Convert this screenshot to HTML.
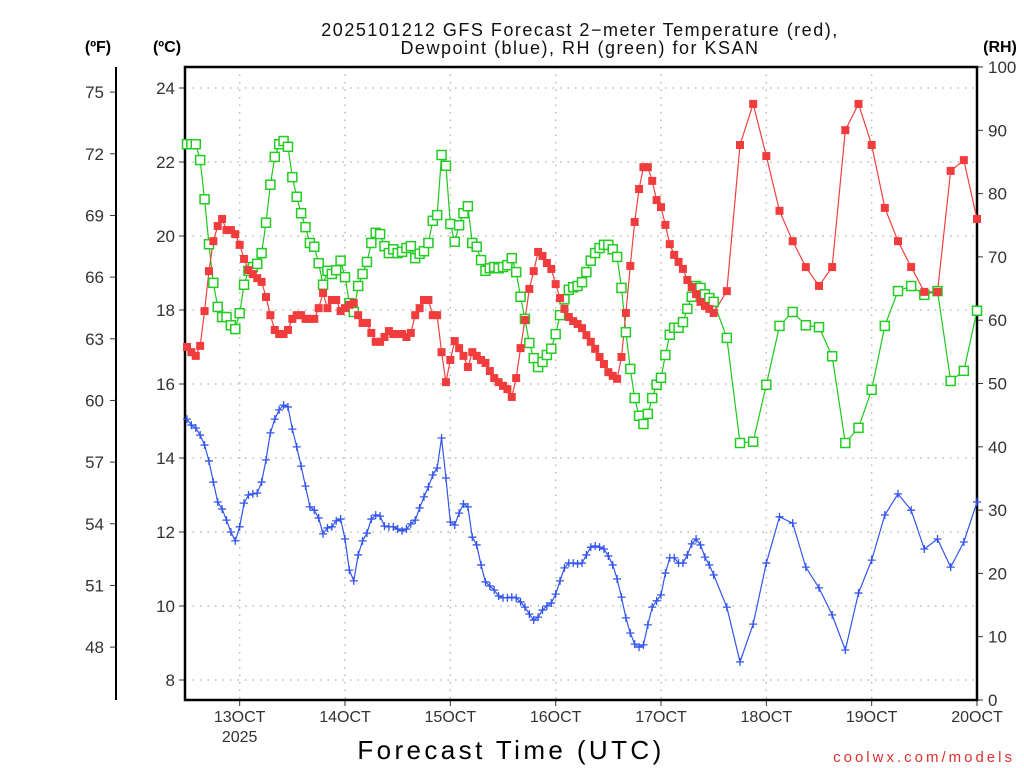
<!DOCTYPE html>
<html><head><meta charset="utf-8"><style>
html,body{margin:0;padding:0;background:#fff;width:1024px;height:768px;overflow:hidden}
svg{display:block;font-family:"Liberation Sans",sans-serif}
</style></head><body>
<svg id="chart" width="1024" height="768" viewBox="0 0 1024 768" xmlns="http://www.w3.org/2000/svg">
<text x="580" y="36" text-anchor="middle" font-size="18" letter-spacing="1.5" fill="#111">2025101212 GFS Forecast 2−meter Temperature (red),</text>
<text x="580" y="54" text-anchor="middle" font-size="18" letter-spacing="1.5" fill="#111">Dewpoint (blue), RH (green) for KSAN</text>
<text x="98" y="52" text-anchor="middle" font-size="16" font-weight="bold" fill="#000">(ºF)</text>
<text x="167" y="52" text-anchor="middle" font-size="16" font-weight="bold" fill="#000">(ºC)</text>
<text x="1000" y="52" text-anchor="middle" font-size="16" font-weight="bold" fill="#000">(RH)</text>
<text x="511" y="759" text-anchor="middle" font-size="26" fill="#000" letter-spacing="3.4">Forecast Time (UTC)</text>
<text x="1015" y="762" text-anchor="end" font-size="15" fill="#e03030" letter-spacing="3">coolwx.com/models</text>
<g id="grid"></g><g id="axes"></g><g id="series"></g>
</svg>
<script>
const tempC=[17.0,16.86,16.76,17.03,17.97,19.05,19.86,20.27,20.46,20.16,20.16,20.05,19.76,19.38,19.08,18.97,18.86,18.76,18.35,17.86,17.46,17.35,17.35,17.46,17.76,17.86,17.86,17.76,17.76,17.76,18.05,18.46,18.05,18.27,18.27,17.97,18.05,18.14,18.19,17.86,17.65,17.65,17.38,17.14,17.14,17.27,17.43,17.35,17.35,17.35,17.27,17.38,17.86,18.05,18.27,18.27,17.86,17.86,16.86,16.05,16.65,17.16,16.97,16.76,16.46,16.86,16.76,16.65,16.57,16.35,16.16,16.05,15.95,15.86,15.65,16.16,16.97,17.73,18.57,19.05,19.57,19.46,19.27,19.11,18.70,18.32,18.03,17.81,17.70,17.62,17.51,17.32,17.14,16.95,16.73,16.54,16.32,16.22,16.14,16.73,17.92,19.19,20.38,21.27,21.86,21.86,21.49,20.97,20.78,20.30,19.78,19.49,19.30,19.11,18.81,18.62,18.43,18.22,18.11,18.03,17.92,
18.51,22.46,23.57,22.16,20.68,19.86,19.16,18.65,19.16,22.86,23.57,22.46,20.76,19.86,19.16,18.49,18.49,21.76,22.05,20.46];
const dewC=[15.05,14.89,14.81,14.62,14.35,13.92,13.35,12.81,12.62,12.32,12.0,11.76,12.14,12.78,13.0,13.03,13.05,13.35,13.95,14.68,15.05,15.30,15.43,15.38,14.78,14.30,13.78,13.24,12.68,12.59,12.38,11.95,12.11,12.14,12.30,12.35,11.81,10.97,10.68,11.38,11.76,11.97,12.35,12.46,12.43,12.16,12.14,12.14,12.08,12.03,12.08,12.22,12.32,12.65,12.95,13.22,13.54,13.73,14.54,13.46,12.27,12.19,12.51,12.76,12.68,11.86,11.65,11.11,10.65,10.54,10.43,10.27,10.22,10.22,10.24,10.22,10.11,9.97,9.78,9.62,9.70,9.89,10.0,10.08,10.32,10.68,11.03,11.16,11.16,11.14,11.16,11.38,11.59,11.62,11.59,11.54,11.35,11.11,10.73,10.24,9.68,9.27,8.97,8.89,8.95,9.49,9.97,10.14,10.30,10.89,11.30,11.30,11.16,11.16,11.38,11.68,11.81,11.65,11.32,11.11,10.84,
9.97,8.49,9.51,11.16,12.41,12.24,11.05,10.49,9.76,8.81,10.35,11.24,12.46,13.03,12.59,11.54,11.81,11.05,11.73,12.81];
const rhPct=[87.8,87.8,87.8,85.3,79.1,72.0,65.9,62.1,60.5,60.5,59.2,58.6,61.1,65.6,67.8,68.4,68.9,70.6,75.4,81.4,85.8,87.8,88.3,87.4,82.6,79.5,76.9,74.7,72.2,71.6,69.0,65.6,67.8,67.3,67.9,69.4,66.8,62.7,61.3,65.4,67.3,69.2,72.2,73.8,73.6,71.7,70.6,71.2,70.6,70.8,71.4,71.7,69.8,70.5,70.9,72.2,75.7,76.6,86.1,84.4,75.2,72.4,75.0,76.9,78.0,72.2,71.6,69.5,67.8,68.2,68.4,68.2,68.4,68.7,69.8,67.6,63.7,60.2,56.4,54.0,52.6,53.4,54.5,55.5,57.8,60.8,63.3,64.8,65.2,65.4,66.0,67.6,69.4,70.6,71.4,71.9,71.9,71.2,70.0,65.1,58.1,52.3,47.7,44.9,43.6,45.2,47.7,49.8,50.9,54.5,57.7,58.8,58.8,59.7,61.8,63.7,65.4,65.1,64.1,63.5,62.9,
57.2,40.6,40.8,49.8,59.1,61.3,59.2,58.9,54.3,40.6,43.0,49.0,59.1,64.6,65.4,64.0,64.6,50.4,52.0,61.5];
const celsiusTicks=[8,10,12,14,16,18,20,22,24];
const fahrenheitTicks=[48,51,54,57,60,63,66,69,72,75];
const rhTicks=[0,10,20,30,40,50,60,70,80,90,100];
const dayTicks=[13,14,15,16,17,18,19,20];
const dayLabels=["13OCT","14OCT","15OCT","16OCT","17OCT","18OCT","19OCT","20OCT"];
// forecast hours: hourly to 120, then 3-hourly to 180
const hours=[];for(let h=0;h<=120;h++)hours.push(h);for(let h=123;h<=180;h+=3)hours.push(h);

const NS="http://www.w3.org/2000/svg";
const L=185,R=977,T=67,B=700;
const xH=h=>L+2+(R-L-2)*h/180;
const xDay=d=>xH((d-12.5)*24);
const yC=c=>88+(24-c)*37;
const yF=f=>yC((f-32)*5/9);
const yRH=r=>B-(B-T)*r/100;
function mk(tag,attrs,parent){const e=document.createElementNS(NS,tag);for(const k in attrs)e.setAttribute(k,attrs[k]);parent.appendChild(e);return e;}
const grid=document.getElementById('grid'),axes=document.getElementById('axes'),ser=document.getElementById('series');

celsiusTicks.forEach(c=>{
 const g=mk('line',{x1:L,x2:R,y1:yC(c),y2:yC(c),stroke:'#bbb','stroke-width':1.5,'stroke-dasharray':'1.5 6'},grid);
 
 
 const t=mk('line',{x1:L-6,x2:L,y1:yC(c),y2:yC(c),stroke:'#333','stroke-width':1},axes);
 
 
 const tx=mk('text',{x:L-10,y:yC(c)+6,'text-anchor':'end','font-size':17,fill:'#333'},axes);
 tx.textContent=c;
 
 
});
dayTicks.forEach((d,i)=>{
 const x=xDay(d);
 const g=mk('line',{x1:x,x2:x,y1:T,y2:B,stroke:'#bbb','stroke-width':1.5,'stroke-dasharray':'1.5 6'},grid);
 
 
 const t=mk('line',{x1:x,x2:x,y1:B,y2:B+6,stroke:'#333','stroke-width':1},axes);
 
 
 const tx=mk('text',{x:x,y:B+22,'text-anchor':'middle','font-size':16,fill:'#333'},axes);
 tx.textContent=dayLabels[i];
 
 
});
const yr=mk('text',{x:xDay(13),y:B+42,'text-anchor':'middle','font-size':16,fill:'#333'},axes);
yr.textContent='2025';


fahrenheitTicks.forEach(f=>{
 const t=mk('line',{x1:110,x2:116,y1:yF(f),y2:yF(f),stroke:'#333','stroke-width':1},axes);
 
 
 const tx=mk('text',{x:104,y:yF(f)+6,'text-anchor':'end','font-size':17,fill:'#333'},axes);
 tx.textContent=f;
 
 
});
rhTicks.forEach(r=>{
 const t=mk('line',{x1:R,x2:R+6,y1:yRH(r),y2:yRH(r),stroke:'#333','stroke-width':1},axes);
 
 
 const tx=mk('text',{x:R+11,y:yRH(r)+6,'text-anchor':'start','font-size':17,fill:'#333'},axes);
 tx.textContent=r;
 
 
});
const fax=mk('line',{x1:116,x2:116,y1:T,y2:B,stroke:'#000','stroke-width':2},axes);


const frame=mk('rect',{x:L,y:T,width:R-L,height:B-T,fill:'none',stroke:'#000','stroke-width':2.5},axes);



function line(vals,yf,color,name){
 const p=mk('polyline',{points:vals.map((v,i)=>xH(hours[i])+','+yf(v)).join(' '),fill:'none',stroke:color,'stroke-width':1.2},ser);
 
 
}
line(rhPct,yRH,'#1ec81e','rh-line');
line(tempC,yC,'#f04040','temperature-line');
line(dewC,yC,'#3355ee','dewpoint-line');
rhPct.forEach((v,i)=>{
 const m=mk('rect',{x:xH(hours[i])-4.5,y:yRH(v)-4.5,width:9,height:9,fill:'#fff',stroke:'#22cc22','stroke-width':1.5},ser);
 
 
});
tempC.forEach((v,i)=>{
 const m=mk('rect',{x:xH(hours[i])-4,y:yC(v)-4,width:8,height:8,fill:'#f03c3c'},ser);
 
 
});
dewC.forEach((v,i)=>{
 const x=xH(hours[i]),y=yC(v);
 const m=mk('path',{d:`M${x-4} ${y}H${x+4}M${x} ${y-4}V${y+4}`,stroke:'#3355ee','stroke-width':1.3,fill:'none'},ser);
 
 
});
</script>
</body></html>
